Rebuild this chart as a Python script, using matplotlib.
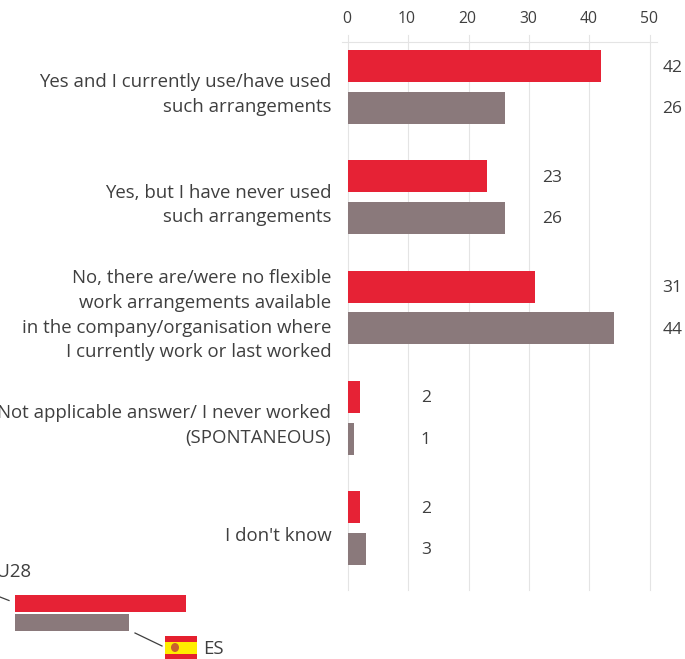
#!/usr/bin/env python3
"""Horizontal bar chart of flexible work arrangement answers, EU28 vs ES."""

import matplotlib
matplotlib.use('Agg')
import matplotlib.pyplot as plt
from matplotlib.lines import Line2D
from matplotlib.patches import Ellipse, Rectangle

plt.rcParams['font.family'] = ['Open Sans', 'DejaVu Sans']

RED = '#E62235'
GREY = '#8A797B'
TEXT = '#3F3F3F'
GRID = '#E4E4E4'

categories = [
    'Yes and I currently use/have used\nsuch arrangements',
    'Yes, but I have never used\nsuch arrangements',
    'No, there are/were no flexible\nwork arrangements available\n'
    'in the company/organisation where\nI currently work or last worked',
    'Not applicable answer/ I never worked\n(SPONTANEOUS)',
    "I don't know",
]
eu28 = [42, 23, 31, 2, 2]
es = [26, 26, 44, 1, 3]
x_ticks = [0, 10, 20, 30, 40, 50]

# x position of the value labels in each group
label_x = [52.1, 32.1, 52.1, 12.1, 12.1]

W, H = 685, 659
fig = plt.figure(figsize=(W / 100, H / 100), dpi=100, facecolor='white')


def px_axes(left, top, right, bottom):
    return fig.add_axes([left / W, 1 - bottom / H, (right - left) / W, (bottom - top) / H])


ax = px_axes(347.8, 42, 649.8, 590)
ax.set_xlim(0, 50)
ax.set_ylim(4.562, -0.408)
ax.patch.set_alpha(0)

for t in x_ticks:
    ax.plot([t, t], [4.562, -0.47], color=GRID, lw=0.8, clip_on=False, zorder=1)
    ax.text(t - 0.2, -0.615, str(t), ha='center', va='center', fontsize=11.3, color=TEXT)
ax.plot([-1, 51.2], [-0.408, -0.408], color=GRID, lw=0.8, clip_on=False, zorder=1)

y_pos = list(range(len(categories)))
ax.barh([y - 0.19 for y in y_pos], eu28, height=0.29, color=RED, zorder=3)
ax.barh([y + 0.19 for y in y_pos], es, height=0.29, color=GREY, zorder=3)

for y, cat, a, b, lx in zip(y_pos, categories, eu28, es, label_x):
    ax.text(-2.75, y + 0.07, cat, ha='right', va='center', fontsize=13.4, color=TEXT,
            linespacing=1.48, clip_on=False)
    ax.text(lx, y - 0.175, str(a), ha='left', va='center', fontsize=12.5, color=TEXT)
    ax.text(lx, y + 0.2, str(b), ha='left', va='center', fontsize=12.5, color=TEXT)

ax.set_xticks([])
ax.set_yticks([])
for spine in ax.spines.values():
    spine.set_visible(False)

# Key at the bottom left, drawn in pixel coordinates
key = fig.add_axes([0, 0, 1, 1])
key.set_xlim(0, W)
key.set_ylim(H, 0)
key.axis('off')
key.patch.set_alpha(0)

key.add_patch(Rectangle((15, 595), 171, 16.5, color=RED, lw=0))
key.add_patch(Rectangle((15, 614), 114, 17, color=GREY, lw=0))
key.add_line(Line2D([0, 9], [597, 600.5], color=TEXT, lw=0.9))
key.add_line(Line2D([135, 162], [633, 646], color=TEXT, lw=0.9))
key.text(31, 572, 'EU28', ha='right', va='center', fontsize=13.4, color=TEXT)
key.text(203.5, 649, 'ES', ha='left', va='center', fontsize=13.4, color=TEXT)

# Flag of Spain
key.add_patch(Rectangle((165, 636), 32, 23, color='#E5202E', lw=0))
key.add_patch(Rectangle((165, 641.5), 32, 12, color='#FFED00', lw=0))
key.add_patch(Ellipse((175, 647.5), 8, 9, color='#C9602E', lw=0))

fig.savefig('out.png', dpi=100, facecolor='white')
